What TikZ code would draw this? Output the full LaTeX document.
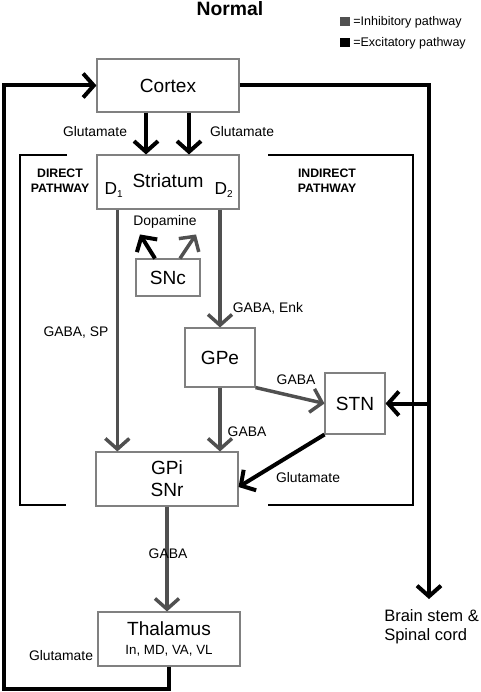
\documentclass[tikz,border=0pt]{standalone}
\usepackage{fontspec}
\setmainfont{Liberation Sans}
\usetikzlibrary{arrows.meta}
\definecolor{inhgray}{HTML}{505050}
\definecolor{boxgray}{HTML}{808080}
\tikzset{
	box/.style 2 args={draw=boxgray,line width=0.8pt,minimum width=#1,minimum height=#2,inner sep=0pt,align=center,font=\fontsize{14.3}{16.5}\selectfont},
	lbl/.style={inner sep=0pt,font=\fontsize{10.4}{12}\selectfont},
	pw/.style={inner sep=0pt,align=center,font=\fontsize{9.2}{11}\selectfont\bfseries},
	exc/.style={line width=3pt,-{Straight Barb[length=8pt,width=18pt]}},
	inh/.style={line width=2.6pt,draw=inhgray,-{Straight Barb[length=8pt,width=18pt]}}
}
\begin{document}
\begin{tikzpicture}[x=0.75pt,y=-0.75pt]
					\useasboundingbox (0,0) rectangle (480,692);

					% title and legend
					\node [inner sep=0pt,font=\fontsize{14.5}{16}\selectfont\bfseries] (title) at (230,9) {Normal};
					\fill [inhgray] (340,17) rectangle (350,26);
					\fill [black] (340,38) rectangle (350,47);
					\node [inner sep=0pt,anchor=west,font=\fontsize{9.4}{11}\selectfont] (leginh) at (353,22) {=Inhibitory pathway};
					\node [inner sep=0pt,anchor=west,font=\fontsize{9.4}{11}\selectfont] (legexc) at (353,43) {=Excitatory pathway};

					% pathway frames
					\draw [line width=0.8pt] (67,155) -- (20,155) -- (20,505) -- (66,505);
					\draw [line width=0.8pt] (268,155) -- (413,155) -- (413,505) -- (268,505);
					\node [pw] (direct) at (60,181) {DIRECT\\PATHWAY};
					\node [pw] (indirect) at (327,181) {INDIRECT\\PATHWAY};

					% nuclei
					\node [box={106.5pt}{39.75pt}] (cortex) at (168,85.5) {Cortex};
					\node [box={106.5pt}{40.5pt}] (striatum) at (168,182) {};
					\node [inner sep=0pt,font=\fontsize{14.3}{16}\selectfont] (striatumtxt) at (168,181) {Striatum};
					\node [inner sep=0pt,font=\fontsize{13}{15}\selectfont] (d1) at (114,190) {D\textsubscript{\fontsize{7.5}{8}\selectfont 1}};
					\node [inner sep=0pt,font=\fontsize{13}{15}\selectfont] (d2) at (224,190) {D\textsubscript{\fontsize{7.5}{8}\selectfont 2}};
					\node [box={48pt}{27.75pt}] (snc) at (168,277.5) {SNc};
					\node [box={52.5pt}{44.25pt}] (gpe) at (220,357.5) {GPe};
					\node [box={45pt}{45.75pt}] (stn) at (355,403.5) {STN};
					\node [box={106.5pt}{40.5pt}] (gpi) at (167,479) {GPi\\SNr};
					\node [box={106.5pt}{40.5pt}] (thalamus) at (169,639) {Thalamus\\[-2pt]{\fontsize{10}{12}\selectfont In, MD, VA, VL}};
					\coordinate (brainstem) at (429,599);
					\node [inner sep=0pt,anchor=north west,align=left,font=\fontsize{12.4}{14.5}\selectfont] (bstxt) at (384,609) {Brain stem \&\\Spinal cord};

					% excitatory
					\draw [exc] ([xshift=-16.5pt]cortex.south) -- ([xshift=-16.5pt]striatum.north);
					\draw [exc] ([xshift=15.75pt]cortex.south) -- ([xshift=15.75pt]striatum.north);
					\draw [exc] (cortex.east) -| (brainstem);
					\draw [exc] (stn.east -| brainstem) -- (stn.east);
					\draw [exc] (stn.south west) -- ([yshift=-6pt]gpi.east);
					\draw [exc] (thalamus.south) |- (4,689) |- (cortex.west);
					\draw [exc] ([xshift=-9.75pt]snc.north) -- ++(-15,-24);

					% inhibitory
					\draw [inh] ([xshift=9pt]snc.north) -- ++(16,-24);
					\draw [inh] ([xshift=-38pt]striatum.south) coordinate (d1out) -- (d1out |- gpi.north);
					\draw [inh] (striatum.south -| gpe.north) -- (gpe.north);
					\draw [inh] (gpe.south) -- (gpe.south |- gpi.north);
					\draw [inh] (gpe.south east) -- (stn.west);
					\draw [inh] (gpi.south) -- (gpi.south |- thalamus.north);

					% transmitters
					\node [lbl] (glu1) at (95,132) {Glutamate};
					\node [lbl] (glu2) at (242,132) {Glutamate};
					\node [lbl] (dopa) at (165,222) {Dopamine};
					\node [lbl] (gabasp) at (76,333) {GABA, SP};
					\node [lbl] (gabaenk) at (268,308) {GABA, Enk};
					\node [lbl] (gaba1) at (296,380) {GABA};
					\node [lbl] (gaba2) at (247,432) {GABA};
					\node [lbl] (gaba3) at (168,554) {GABA};
					\node [lbl] (glu3) at (308,478) {Glutamate};
					\node [lbl] (glu4) at (61,656) {Glutamate};
				\end{tikzpicture}
\end{document}
